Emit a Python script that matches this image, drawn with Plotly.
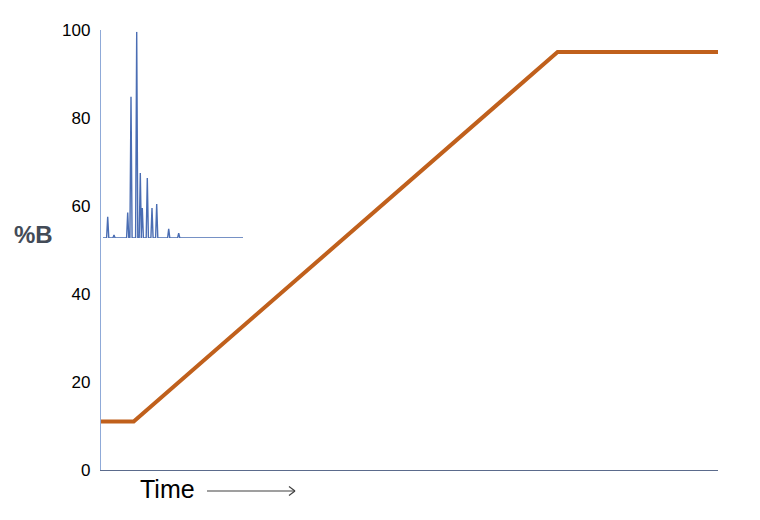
import plotly.graph_objects as go

# Gradient program (%B vs time, arbitrary time units 0-100)
grad_time = [0, 5.3, 74, 100]
grad_b = [11, 11, 95, 95]

# Inset chromatogram (retention time, relative intensity)
peak_rt = [0.47, 1.1, 2.47, 2.8, 3.37, 3.73, 3.93, 4.43, 4.9, 5.37, 6.57, 7.57]
peak_h = [10.3, 1.5, 12.4, 68.5, 100, 31.5, 14.5, 29.1, 14.5, 16.5, 4.4, 2.4]
chrom_range = [0, 14]

y_ticks = [0, 20, 40, 60, 80, 100]

# build chromatogram trace from peak table (narrow peaks on a flat baseline)
hw = 0.11
cx, cy = [chrom_range[0]], [0]
for rt, h in zip(peak_rt, peak_h):
    cx += [rt - hw, rt, rt + hw]
    cy += [0, h, 0]
cx.append(chrom_range[1])
cy.append(0)

fig = go.Figure()
fig.add_trace(go.Scatter(x=grad_time, y=grad_b, mode="lines",
                         line=dict(color="#C0601C", width=4), hoverinfo="skip"))
fig.add_trace(go.Scatter(x=cx, y=cy, mode="lines", xaxis="x2", yaxis="y2",
                         line=dict(color="#4A6DB3", width=1.4), hoverinfo="skip"))

# page offset (body margin) compensation
OFF = 8
PL, PR, PT, PB = 101, 718, 30, 470  # plot area in page pixels
W, H = 760 - OFF, 520 - OFF
L, T = PL - OFF, PT - OFF
R = (OFF + W) - PR
B = (OFF + H) - PB
pw, ph = PR - PL, PB - PT

def px(x):
    return (x - PL) / pw

def py(y):
    return (PB - y) / ph

fig.update_layout(
    width=W, height=H,
    margin=dict(l=L, r=R, t=T, b=B),
    paper_bgcolor="white", plot_bgcolor="white",
    showlegend=False,
    font=dict(family="Liberation Sans, Arial", size=17, color="black"),
    xaxis=dict(range=[0, 100], showgrid=False, zeroline=False,
               showticklabels=False, ticks="", showline=True,
               linecolor="#5B6B8C", linewidth=1.3, fixedrange=True),
    yaxis=dict(range=[0, 100], tickvals=y_ticks, showgrid=False, zeroline=False,
               ticks="", showline=True, linecolor="#8FAAD8", linewidth=1.3,
               ticklabelstandoff=6, tickfont=dict(size=17, color="black"),
               fixedrange=True),
    xaxis2=dict(domain=[px(103), px(243)], range=chrom_range, anchor="y2",
                visible=False, fixedrange=True),
    yaxis2=dict(domain=[py(238), py(31.7)], range=[0, 100], anchor="x2",
                visible=False, fixedrange=True),
)

fig.add_annotation(text="<b>%B</b>", xref="paper", yref="paper", x=px(33), y=py(234),
                   showarrow=False, xanchor="center", yanchor="middle",
                   font=dict(size=24, color="#434B57", family="Liberation Sans, Arial"))
fig.add_annotation(text="Time", xref="paper", yref="paper", x=px(167), y=py(489),
                   showarrow=False, xanchor="center", yanchor="middle",
                   font=dict(size=25, color="black", family="Liberation Sans, Arial"))

# arrow after "Time"
ac = "#404040"
fig.add_shape(type="line", xref="paper", yref="paper",
              x0=px(207), x1=px(295), y0=py(491), y1=py(491),
              line=dict(color=ac, width=1.2))
fig.add_shape(type="line", xref="paper", yref="paper",
              x0=px(289), x1=px(295), y0=py(486.5), y1=py(491),
              line=dict(color=ac, width=1.2))
fig.add_shape(type="line", xref="paper", yref="paper",
              x0=px(289), x1=px(295), y0=py(495.5), y1=py(491),
              line=dict(color=ac, width=1.2))

fig.write_html("out.html")
